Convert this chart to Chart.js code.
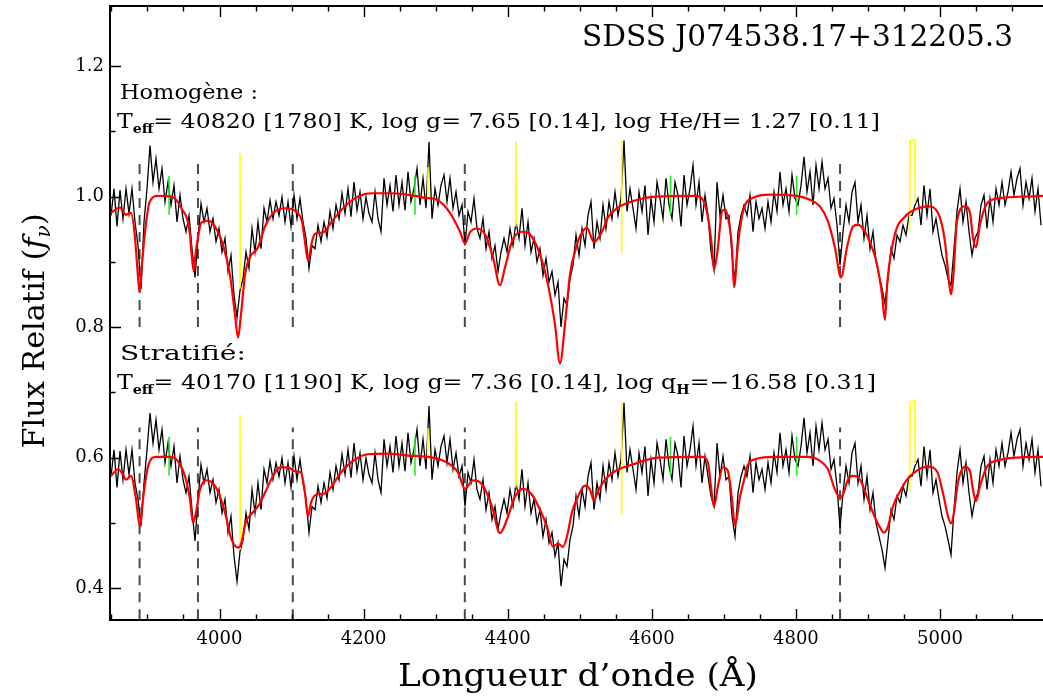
<!DOCTYPE html>
<html lang="fr">
<head>
<meta charset="UTF-8">
<title>SDSS J074538.17+312205.3</title>
<script src="https://cdn.jsdelivr.net/npm/chart.js"></script>
<style>
  html, body { margin: 0; padding: 0; background: #fff; }
  #wrap { width: 1043px; height: 696px; }
</style>
</head>
<body>
<div id="wrap"><canvas id="spectre" width="1043" height="696"></canvas></div>
<script>
// spectre observe (flux normalise), echantillonne a pas constant
const obsStart = 3849.4;
const obsStep = 4.164;

// ajustement homogene (panneau du haut)
const obsTop = [
  0.971, 1.012, 0.954, 1.010, 0.966, 1.012, 0.974, 1.012, 0.961, 0.925,
  0.858, 0.961, 1.012, 1.078, 1.022, 1.058, 1.012, 1.043, 0.992, 1.022,
  0.987, 1.017, 0.961, 1.002, 0.966, 0.946, 0.971, 0.920, 0.876, 0.936,
  0.989, 0.961, 0.982, 0.946, 0.966, 0.931, 0.951, 0.915, 0.936, 0.885,
  0.910, 0.849, 0.815, 0.856, 0.874, 0.915, 0.890, 0.951, 0.915, 0.961,
  0.920, 0.982, 0.961, 0.994, 0.966, 0.992, 0.971, 0.999, 0.961, 0.992,
  0.954, 1.002, 0.966, 0.997, 0.961, 0.936, 0.890, 0.925, 0.920, 0.956,
  0.931, 0.961, 0.938, 0.977, 0.951, 0.987, 0.966, 1.005, 0.974, 1.012,
  0.969, 1.022, 0.979, 1.007, 0.966, 0.999, 0.974, 0.961, 1.007, 0.966,
  0.946, 1.028, 0.987, 1.017, 0.977, 1.033, 0.987, 1.022, 0.979, 1.038,
  0.992, 1.012, 1.043, 0.987, 1.028, 0.982,
  1.084, 0.966, 1.012, 0.987, 1.017, 1.033, 0.992, 1.028, 0.982, 1.007,
  0.971, 0.987, 0.925, 0.977, 0.961, 0.997, 0.951, 0.936, 0.966, 0.920,
  0.946, 0.905, 0.925, 0.885, 0.915, 0.936, 0.915, 0.951, 0.925, 0.961,
  0.936, 0.982, 0.925, 0.961, 0.915, 0.936, 0.900, 0.920, 0.879, 0.905,
  0.869, 0.885, 0.849, 0.869, 0.800, 0.844, 0.833, 0.874, 0.895, 0.941,
  0.910, 0.951, 0.925, 0.971, 0.992, 0.920, 0.961, 0.936, 0.987, 0.951,
  0.992, 0.966, 1.007, 0.971, 0.997, 1.086, 0.977, 1.012, 0.982, 0.951,
  1.007, 0.977, 1.017, 0.941, 0.997, 0.961, 1.022, 0.997, 0.966, 1.028,
  0.987, 0.966, 1.022, 1.002, 0.954, 1.033, 0.987, 1.012, 1.048, 0.987,
  1.022, 0.961, 1.002, 0.971, 0.915, 0.888, 1.022, 0.971, 1.002, 0.966,
  0.971, 0.910, 0.870, 0.946, 0.971, 0.987,
  0.971, 1.002, 0.946, 0.992, 0.966, 0.982, 0.951, 0.992, 0.961, 1.007,
  0.977, 1.038, 0.987, 1.012, 0.977, 1.033, 0.997, 0.987, 1.017, 1.061,
  1.007, 1.038, 0.987, 1.048, 1.012, 1.053, 1.012, 1.028, 0.982, 0.997,
  0.956, 0.895, 0.946, 0.987, 0.961, 1.007, 1.022, 0.961, 0.987, 0.936,
  0.971, 0.920, 0.946, 0.900, 0.879, 0.859, 0.836, 0.874, 0.920, 0.905,
  0.941, 0.931, 0.956, 0.941, 0.971, 0.971, 0.987, 0.997, 0.956, 1.017,
  0.971, 1.012, 0.946, 0.966, 0.936, 0.910, 0.895, 0.874, 0.864, 0.920,
  0.977, 1.012, 0.961, 0.992, 0.946, 0.910, 0.936, 0.946, 0.987, 1.002,
  0.951, 0.997, 0.961, 1.012, 0.987, 1.022, 0.987, 1.007, 1.038, 1.002,
  1.028, 1.043, 0.987, 1.022, 0.997, 1.028, 0.977, 1.012, 0.956
];

// ajustement stratifie (panneau du bas, decale de -0.4)
const obsBot = [
  0.971, 1.012, 0.954, 1.010, 0.966, 1.012, 0.974, 1.012, 0.961, 0.936,
  0.895, 0.961, 1.012, 1.068, 1.022, 1.058, 1.012, 1.043, 0.992, 1.022,
  0.987, 1.017, 0.961, 1.002, 0.966, 0.946, 0.971, 0.920, 0.872, 0.936,
  0.989, 0.961, 0.982, 0.946, 0.966, 0.931, 0.951, 0.915, 0.936, 0.885,
  0.910, 0.849, 0.810, 0.856, 0.874, 0.915, 0.890, 0.951, 0.915, 0.961,
  0.920, 0.982, 0.961, 0.994, 0.966, 0.992, 0.971, 0.999, 0.961, 0.992,
  0.954, 1.002, 0.966, 0.997, 0.961, 0.936, 0.885, 0.925, 0.920, 0.956,
  0.931, 0.961, 0.938, 0.977, 0.951, 0.987, 0.966, 1.005, 0.974, 1.012,
  0.969, 1.022, 0.979, 1.007, 0.966, 0.999, 0.974, 0.961, 1.007, 0.966,
  0.946, 1.028, 0.987, 1.017, 0.977, 1.033, 0.987, 1.022, 0.979, 1.038,
  0.992, 1.012, 1.043, 0.987, 1.028, 0.982,
  1.079, 0.966, 1.012, 0.987, 1.017, 1.033, 0.992, 1.028, 0.982, 1.007,
  0.971, 0.987, 0.925, 0.977, 0.961, 0.997, 0.951, 0.936, 0.966, 0.920,
  0.946, 0.905, 0.925, 0.890, 0.915, 0.936, 0.915, 0.951, 0.925, 0.961,
  0.936, 0.982, 0.925, 0.961, 0.915, 0.936, 0.900, 0.920, 0.879, 0.905,
  0.869, 0.885, 0.849, 0.869, 0.803, 0.844, 0.833, 0.874, 0.895, 0.941,
  0.910, 0.951, 0.925, 0.971, 0.992, 0.920, 0.961, 0.936, 0.987, 0.951,
  0.992, 0.966, 1.007, 0.971, 0.997, 1.084, 0.977, 1.012, 0.982, 0.951,
  1.007, 0.977, 1.017, 0.941, 0.997, 0.961, 1.022, 0.997, 0.966, 1.028,
  0.987, 0.966, 1.022, 1.002, 0.954, 1.033, 0.987, 1.012, 1.048, 0.987,
  1.022, 0.961, 1.002, 0.971, 0.941, 0.925, 1.022, 0.971, 1.002, 0.966,
  0.971, 0.910, 0.879, 0.946, 0.971, 0.987,
  0.971, 1.002, 0.946, 0.992, 0.966, 0.982, 0.951, 0.992, 0.961, 1.007,
  0.977, 1.038, 0.987, 1.012, 0.977, 1.033, 0.997, 0.987, 1.017, 1.061,
  1.007, 1.038, 0.987, 1.048, 1.012, 1.053, 1.012, 1.028, 0.982, 0.997,
  0.956, 0.892, 0.946, 0.987, 0.961, 1.007, 1.022, 0.961, 0.987, 0.936,
  0.971, 0.920, 0.946, 0.900, 0.879, 0.859, 0.831, 0.874, 0.920, 0.905,
  0.941, 0.931, 0.956, 0.941, 0.971, 0.971, 0.987, 0.997, 0.956, 1.017,
  0.971, 1.012, 0.946, 0.966, 0.936, 0.910, 0.895, 0.874, 0.851, 0.920,
  0.977, 1.012, 0.961, 0.992, 0.946, 0.910, 0.936, 0.946, 0.987, 1.002,
  0.951, 0.997, 0.961, 1.012, 0.987, 1.022, 0.987, 1.007, 1.038, 1.002,
  1.028, 1.043, 0.987, 1.022, 0.997, 1.028, 0.977, 1.012, 0.956
];

// modele homogene
const homWave = [
  3849.4, 3861.9, 3870.2, 3877.1, 3882.3, 3885.9, 3889.2, 3892.4, 3896.2, 3903.1,
  3914.6, 3932.7, 3946.5, 3959.0, 3960.9, 3964.4, 3966.2, 3970.1, 3974.7, 3984.0,
  3993.7, 4004.8, 4014.5, 4021.5, 4025.7, 4029.8, 4035.4, 4042.3, 4053.4, 4063.1,
  4077.0, 4090.9, 4108.9, 4114.5, 4118.6, 4122.8, 4128.4, 4132.5, 4143.6, 4156.1,
  4174.2, 4192.2, 4211.6, 4239.4, 4271.3, 4285.2, 4301.8, 4319.9, 4333.8, 4340.7,
  4347.6, 4357.4, 4368.5, 4379.6, 4389.3, 4396.2, 4406.0, 4419.8, 4430.9, 4444.8,
  4455.9, 4465.6, 4472.6, 4479.5, 4486.4, 4496.1, 4500.3, 4510.0, 4519.7, 4530.8,
  4539.2, 4553.1, 4576.6, 4604.4, 4659.9, 4671.0, 4678.0, 4683.5, 4686.3, 4691.8,
  4697.4, 4701.6, 4705.7, 4711.3, 4714.1, 4719.6, 4726.6, 4740.4, 4764.0, 4801.5,
  4819.5, 4833.4, 4844.5, 4854.2, 4862.6, 4870.9, 4879.2, 4886.2, 4895.9, 4905.6,
  4912.6, 4919.5, 4923.6, 4927.0, 4937.4, 4951.3, 4969.4, 4983.3, 4997.2, 5006.9,
  5012.4, 5015.2, 5018.0, 5023.6, 5034.7, 5041.6, 5045.8, 5050.0, 5055.5, 5066.6,
  5086.0, 5118.0, 5143.0
];
const homFlux = [
  0.975, 0.983, 0.972, 0.975, 0.942, 0.891, 0.854, 0.896, 0.942, 0.992,
  1.001, 1.000, 0.983, 0.942, 0.916, 0.885, 0.907, 0.937, 0.960, 0.963,
  0.954, 0.926, 0.880, 0.819, 0.784, 0.819, 0.880, 0.907, 0.922, 0.954,
  0.977, 0.982, 0.974, 0.962, 0.931, 0.902, 0.931, 0.943, 0.945, 0.962,
  0.985, 1.000, 1.005, 1.005, 1.001, 0.998, 0.995, 0.975, 0.946, 0.928,
  0.945, 0.951, 0.942, 0.907, 0.864, 0.891, 0.931, 0.946, 0.942, 0.911,
  0.865, 0.804, 0.744, 0.804, 0.880, 0.926, 0.939, 0.952, 0.930, 0.946,
  0.968, 0.983, 0.994, 1.000, 1.001, 0.995, 0.968, 0.922, 0.888, 0.922,
  0.977, 0.980, 0.968, 0.922, 0.861, 0.926, 0.977, 0.998, 1.003, 1.001,
  0.995, 0.985, 0.962, 0.922, 0.876, 0.922, 0.954, 0.957, 0.946, 0.922,
  0.896, 0.850, 0.811, 0.870, 0.942, 0.969, 0.982, 0.985, 0.975, 0.931,
  0.870, 0.850, 0.870, 0.962, 0.985, 0.975, 0.937, 0.922, 0.957, 0.991,
  0.998, 1.000, 1.001
];

// modele stratifie
const strWave = [
  3849.4, 3859.1, 3866.0, 3870.2, 3877.1, 3884.1, 3889.6, 3893.8, 3900.7, 3911.8,
  3931.3, 3942.4, 3952.1, 3959.0, 3963.2, 3967.4, 3972.9, 3981.2, 3988.2, 3997.9,
  4007.6, 4015.9, 4025.7, 4029.8, 4036.8, 4043.7, 4053.4, 4063.1, 4071.5, 4083.9,
  4095.0, 4104.8, 4113.1, 4118.6, 4122.8, 4127.0, 4133.9, 4146.4, 4157.5, 4168.6,
  4188.0, 4206.1, 4233.8, 4261.6, 4289.4, 4313.0, 4331.0, 4340.7, 4351.8, 4364.3,
  4378.2, 4389.3, 4399.0, 4410.1, 4421.2, 4433.7, 4444.8, 4454.5, 4462.8, 4469.8,
  4476.8, 4482.3, 4489.2, 4497.5, 4507.3, 4514.2, 4519.7, 4525.3, 4535.0, 4548.9,
  4572.5, 4608.6, 4669.6, 4678.0, 4682.1, 4686.3, 4691.8, 4698.8, 4705.7, 4711.3,
  4715.4, 4722.4, 4729.3, 4732.1, 4746.0, 4768.2, 4815.4, 4833.4, 4844.5, 4854.2,
  4861.2, 4865.3, 4872.3, 4879.2, 4888.9, 4900.0, 4909.7, 4916.7, 4922.2, 4927.8,
  4934.7, 4944.4, 4954.2, 4968.0, 4983.3, 4995.8, 5004.1, 5011.1, 5015.2, 5019.4,
  5025.0, 5034.7, 5041.6, 5045.8, 5050.0, 5055.5, 5065.2, 5079.1, 5106.8, 5143.0
];
const strFlux = [
  0.972, 0.982, 0.974, 0.966, 0.972, 0.936, 0.894, 0.936, 0.986, 1.001,
  1.001, 0.994, 0.971, 0.936, 0.900, 0.916, 0.951, 0.965, 0.963, 0.948,
  0.916, 0.877, 0.862, 0.867, 0.902, 0.913, 0.925, 0.946, 0.966, 0.985,
  0.985, 0.979, 0.977, 0.946, 0.910, 0.931, 0.943, 0.945, 0.959, 0.977,
  0.997, 1.005, 1.006, 1.003, 1.001, 0.994, 0.977, 0.952, 0.965, 0.959,
  0.925, 0.884, 0.905, 0.940, 0.952, 0.943, 0.920, 0.894, 0.863, 0.868,
  0.863, 0.879, 0.916, 0.940, 0.957, 0.951, 0.934, 0.948, 0.966, 0.979,
  0.989, 1.000, 1.001, 0.992, 0.956, 0.925, 0.956, 0.985, 0.979, 0.936,
  0.896, 0.940, 0.971, 0.986, 0.998, 1.001, 1.001, 0.995, 0.982, 0.951,
  0.939, 0.943, 0.966, 0.972, 0.966, 0.936, 0.908, 0.893, 0.885, 0.894,
  0.925, 0.948, 0.966, 0.980, 0.986, 0.979, 0.946, 0.910, 0.899, 0.916,
  0.962, 0.986, 0.979, 0.951, 0.933, 0.956, 0.986, 0.995, 1.000, 1.001
];

// pixels masques (jaune) et raies marquees (vert)
const yellowWave = [
  [4027.6, 4028.4, 4029.0],
  [4288.8, 4289.5],
  [4410.6, 4411.3, 4412.0],
  [4557.6, 4558.3],
  [4957.8, 4958.6, 4965.0, 4965.8]
];
const yellowFlux = [
  [0.860, 1.066, 0.870],
  [0.998, 1.045],
  [0.955, 1.085, 0.958],
  [0.914, 1.086],
  [0.948, 1.085, 1.087, 0.990]
];
const greenWave = [3930.0, 4271.3, 4626.0, 4801.0];
const greenLow = [0.972, 0.972, 0.972, 0.972];
const greenHigh = [1.032, 1.032, 1.032, 1.032];

// raies de Balmer (tirets)
const balmerWave = [3889.05, 3970.07, 4101.74, 4340.47, 4861.33];
const balmerTopSpan = [0.800, 1.052];
const balmerBotSpan = [0.300, 0.646];

const topOffset = 0.0;
const botOffset = -0.4;

const FONT = '"DejaVu Serif", serif';

function gridPoints(arr, off) {
  return arr.map((v, i) => ({ x: obsStart + i * obsStep, y: v + off }));
}
function pairPoints(w, f, off) {
  return w.map((l, i) => ({ x: l, y: f[i] + off }));
}

const datasets = [];
balmerWave.forEach(l => {
  [balmerTopSpan, balmerBotSpan].forEach(span => {
    datasets.push({
      data: [{ x: l, y: span[0] }, { x: l, y: span[1] }],
      borderColor: '#4a4a4a', borderWidth: 2, borderDash: [10, 7],
      pointRadius: 0, order: 10
    });
  });
});
datasets.push({ data: gridPoints(obsTop, topOffset), borderColor: '#000', borderWidth: 1.3, pointRadius: 0, order: 5 });
datasets.push({ data: gridPoints(obsBot, botOffset), borderColor: '#000', borderWidth: 1.3, pointRadius: 0, order: 5 });
[topOffset, botOffset].forEach(off => {
  yellowWave.forEach((w, i) => {
    datasets.push({ data: pairPoints(w, yellowFlux[i], off), borderColor: '#ffff00', borderWidth: 1.6, pointRadius: 0, order: 3 });
  });
  greenWave.forEach((l, i) => {
    datasets.push({ data: [{ x: l, y: greenLow[i] + off }, { x: l, y: greenHigh[i] + off }], borderColor: '#22ee22', borderWidth: 1.6, pointRadius: 0, order: 3 });
  });
});
datasets.push({ data: pairPoints(homWave, homFlux, topOffset), borderColor: '#ff0000', borderWidth: 2.2, pointRadius: 0, cubicInterpolationMode: 'monotone', order: 1 });
datasets.push({ data: pairPoints(strWave, strFlux, botOffset), borderColor: '#ff0000', borderWidth: 2.2, pointRadius: 0, cubicInterpolationMode: 'monotone', order: 1 });

// texte compose de morceaux (indices, italiques), etire a la largeur voulue
function drawRuns(ctx, runs, x, y, width, align) {
  let total = 0;
  runs.forEach(r => {
    ctx.font = (r.italic ? 'italic ' : '') + (r.bold ? 'bold ' : '') + r.size + 'px ' + FONT;
    r.w = ctx.measureText(r.t).width;
    total += r.w;
  });
  const sx = width ? width / total : 1;
  ctx.save();
  ctx.translate(x, y);
  ctx.scale(sx, 1);
  let cx = align === 'center' ? -total / 2 : 0;
  runs.forEach(r => {
    ctx.font = (r.italic ? 'italic ' : '') + (r.bold ? 'bold ' : '') + r.size + 'px ' + FONT;
    ctx.fillText(r.t, cx, r.dy || 0);
    cx += r.w;
  });
  ctx.restore();
}

const cadre = {
  id: 'cadre',
  afterDatasetsDraw(chart) {
    const { ctx, chartArea: a, scales: { x, y } } = chart;
    ctx.save();
    ctx.strokeStyle = '#000';
    ctx.lineWidth = 2;
    ctx.beginPath();
    ctx.moveTo(a.left, a.top);
    ctx.lineTo(a.right, a.top);
    ctx.stroke();
    ctx.lineWidth = 1.4;
    ctx.beginPath();
    for (let v = 3850; v <= x.max; v += 50) {
      const px = Math.round(x.getPixelForValue(v)) + 0.5;
      const len = v % 200 === 0 ? 11 : 5.5;
      ctx.moveTo(px, a.bottom); ctx.lineTo(px, a.bottom - len);
      ctx.moveTo(px, a.top); ctx.lineTo(px, a.top + len);
    }
    for (let i = 4; i <= 12; i++) {
      const py = Math.round(y.getPixelForValue(i / 10)) + 0.5;
      const len = i % 2 === 0 ? 11 : 5.5;
      ctx.moveTo(a.left, py); ctx.lineTo(a.left + len, py);
    }
    ctx.stroke();
    ctx.restore();
  },
  afterDraw(chart) {
    const ctx = chart.ctx;
    ctx.save();
    ctx.fillStyle = '#000';
    ctx.textBaseline = 'alphabetic';
    drawRuns(ctx, [{ t: 'SDSS J074538.17+312205.3', size: 29 }], 582, 46, 431);
    drawRuns(ctx, [{ t: 'Homogène :', size: 20 }], 120, 99, 138);
    drawRuns(ctx, [
      { t: 'T', size: 20 },
      { t: 'eff', size: 12, bold: true, dy: 5 },
      { t: '= 40820 [1780] K, log g= 7.65 [0.14], log He/H= 1.27 [0.11]', size: 20 }
    ], 117, 128, 763);
    drawRuns(ctx, [{ t: 'Stratifié:', size: 20 }], 120, 360, 126);
    drawRuns(ctx, [
      { t: 'T', size: 20 },
      { t: 'eff', size: 12, bold: true, dy: 5 },
      { t: '= 40170 [1190] K, log g= 7.36 [0.14], log q', size: 20 },
      { t: 'H', size: 12, bold: true, dy: 5 },
      { t: '=\u221216.58 [0.31]', size: 20 }
    ], 117, 389, 759);
    drawRuns(ctx, [{ t: 'Longueur d\u2019onde (Å)', size: 32 }], 578, 686, 360, 'center');
    ctx.save();
    ctx.translate(44, 331);
    ctx.rotate(-Math.PI / 2);
    drawRuns(ctx, [
      { t: 'Flux Relatif (', size: 30 },
      { t: 'f', size: 30, italic: true },
      { t: '\u03bd', size: 20, italic: true, dy: 6 },
      { t: ')', size: 30 }
    ], 0, 0, 235, 'center');
    ctx.restore();
    ctx.restore();
  }
};

new Chart(document.getElementById('spectre'), {
  type: 'line',
  data: { datasets: datasets },
  plugins: [cadre],
  options: {
    responsive: false,
    animation: false,
    layout: { padding: { top: 6, right: 0, bottom: 0, left: 0 } },
    plugins: { legend: { display: false }, tooltip: { enabled: false } },
    elements: { line: { tension: 0 } },
    scales: {
      x: {
        type: 'linear', min: 3848, max: 5143,
        afterFit: s => { s.height = 76; s.paddingLeft = 0; s.paddingRight = 0; },
        grid: { display: false, drawTicks: false },
        border: { display: true, color: '#000', width: 2 },
        ticks: {
          stepSize: 200, autoSkip: false, maxRotation: 0, padding: 9, includeBounds: false,
          color: '#000', font: { family: FONT, size: 18 }, callback: v => String(v)
        }
      },
      y: {
        type: 'linear', min: 0.351, max: 1.292,
        afterFit: s => { s.width = 110; s.paddingTop = 0; s.paddingBottom = 0; },
        grid: { display: false, drawTicks: false },
        border: { display: true, color: '#000', width: 2 },
        ticks: {
          stepSize: 0.2, padding: 6, includeBounds: false,
          color: '#000', font: { family: FONT, size: 18 }, callback: v => v.toFixed(1)
        }
      }
    }
  }
});
</script>
</body>
</html>
